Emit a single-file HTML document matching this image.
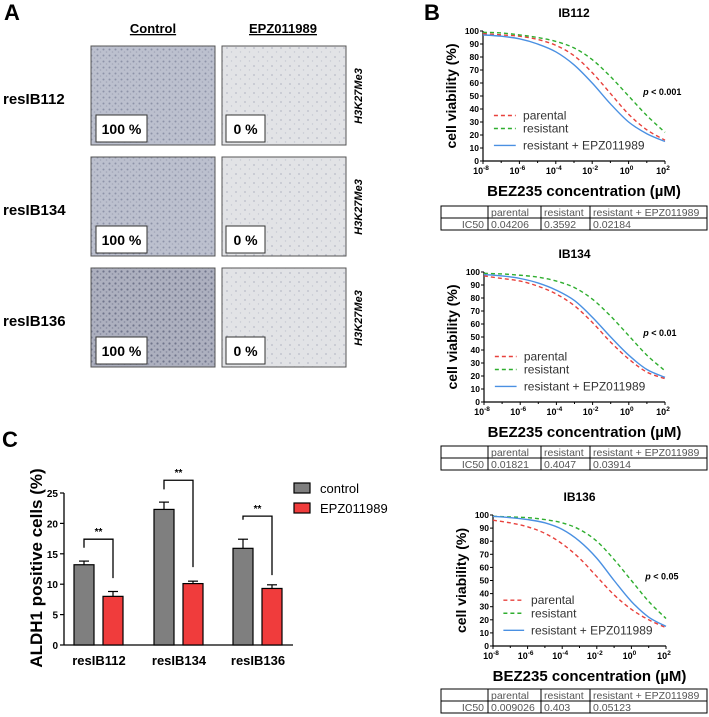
<!DOCTYPE html>
<html><head><meta charset="utf-8">
<style>
html,body{margin:0;padding:0;background:#fff;}
svg{display:block;font-family:"Liberation Sans",Arial,sans-serif;}
</style></head>
<body>
<svg id="fig" width="709" height="717" viewBox="0 0 709 717" xmlns="http://www.w3.org/2000/svg">
<defs>
<pattern id="dense" width="6" height="6" patternUnits="userSpaceOnUse">
<rect width="6" height="6" fill="#bcc0ce"/><circle cx="1.5" cy="1.5" r="1" fill="#8e93a8"/><circle cx="4.5" cy="4" r="0.8" fill="#a2a6b8"/>
</pattern>
<pattern id="dense2" width="6" height="6" patternUnits="userSpaceOnUse">
<rect width="6" height="6" fill="#adb0bf"/><circle cx="1.5" cy="1.5" r="1.1" fill="#70758c"/><circle cx="4.5" cy="4" r="0.9" fill="#8a8ea2"/>
</pattern>
<pattern id="sparse" width="9" height="9" patternUnits="userSpaceOnUse">
<rect width="9" height="9" fill="#e2e3e6"/><circle cx="2" cy="3" r="0.9" fill="#b9bcc8"/><circle cx="6.5" cy="7" r="0.7" fill="#c6c8d2"/>
</pattern>
</defs>
<g id="panelA"></g>
<g id="panelB"></g>
<g id="panelC"></g>
</svg>
<script>
// ---- Panel B data ----
const logConc = [-8,-7,-6,-5,-4,-3,-2,-1,0,1,2];
const xTickExp = [-8,-6,-4,-2,0,2];
const yTicksB = [0,10,20,30,40,50,60,70,80,90,100];
const chartTitles = ["IB112","IB134","IB136"];
const pTexts = ["< 0.001","< 0.01","< 0.05"];
const ib112Parental = [98,97,96,93.5,89,81,68,52,36,24,16];
const ib112Resistant = [99,98.5,97,95,92,87,78,65,50,35,22];
const ib112Epz = [97,96,94,90,84,74,60,44,30,21,15];
const ib134Parental = [97,95,93,89,83,74,61,46,33,23,18];
const ib134Resistant = [99,98.5,97.5,96,93,88,79,66,51,36,24];
const ib134Epz = [98,97,95,91.5,86,78,65,50,36,25,19];
const ib136Parental = [96,94,91,86,78,67,53,39,28,20,14];
const ib136Resistant = [99,98.5,98,96.5,94,89,80,66,50,34,21];
const ib136Epz = [99,98,96.5,94,89,80,67,50,34,22,15];
const ic50Header = ["","parental","resistant","resistant + EPZ011989"];
const ic50Rows = [["IC50","0.04206","0.3592","0.02184"],["IC50","0.01821","0.4047","0.03914"],["IC50","0.009026","0.403","0.05123"]];
// ---- Panel C data ----
const groups = ["resIB112","resIB134","resIB136"];
const controlVals = [13.2,22.3,15.9];
const controlErr = [0.6,1.2,1.5];
const epzVals = [8.0,10.1,9.3];
const epzErr = [0.8,0.4,0.6];
const yTicksC = [0,5,10,15,20,25];
const bracketTop = [17.4,27.1,21.2];
const bracketLeft = [16,25.6,20.6];
const bracketRight = [11,12.8,11.5];

const NS="http://www.w3.org/2000/svg";
function mk(parent,tag,attrs,text){const e=document.createElementNS(NS,tag);for(const k in attrs)e.setAttribute(k,attrs[k]);if(text!==undefined)e.textContent=text;parent.appendChild(e);return e;}

// ---- Panel A ----
(function(){
 const g=document.getElementById('panelA');
 let t=mk(g,'text',{x:4,y:20,'font-size':22,'font-weight':'bold'},'A');
 
 t=mk(g,'text',{x:153,y:33,'font-size':13,'font-weight':'bold','text-anchor':'middle','text-decoration':'underline'},'Control');
 
 t=mk(g,'text',{x:283,y:33,'font-size':13,'font-weight':'bold','text-anchor':'middle','text-decoration':'underline'},'EPZ011989');
 
 const rows=["resIB112","resIB134","resIB136"];const tops=[46,157,268];
 rows.forEach((r,i)=>{
  const y=tops[i];
  let l=mk(g,'text',{x:3,y:y+58,'font-size':15,'font-weight':'bold'},r);
  
  let a=mk(g,'rect',{x:91,y:y,width:124,height:99,fill:i===2?'url(#dense2)':'url(#dense)',stroke:'#555','stroke-width':1});
  
  let b=mk(g,'rect',{x:222,y:y,width:124,height:99,fill:'url(#sparse)',stroke:'#555','stroke-width':1});
  
  let bx=mk(g,'rect',{x:96,y:y+69,width:51,height:27,fill:'#fff',stroke:'#333','stroke-width':1});
  
  let tx=mk(g,'text',{x:121.5,y:y+88,'font-size':14,'font-weight':'bold','text-anchor':'middle'},'100 %');
  
  let bx2=mk(g,'rect',{x:226,y:y+69,width:39,height:27,fill:'#fff',stroke:'#333','stroke-width':1});
  
  let tx2=mk(g,'text',{x:245.5,y:y+88,'font-size':14,'font-weight':'bold','text-anchor':'middle'},'0 %');
  
  let h=mk(g,'text',{x:0,y:0,'font-size':11,'font-weight':'bold','font-style':'italic','text-anchor':'middle',transform:`translate(362,${y+50}) rotate(-90)`},'H3K27Me3');
  
 });
})();

// ---- Panel B ----
function smoothPath(pts){
 let d=`M${pts[0][0].toFixed(2)},${pts[0][1].toFixed(2)}`;
 for(let i=0;i<pts.length-1;i++){
  const p0=pts[Math.max(0,i-1)],p1=pts[i],p2=pts[i+1],p3=pts[Math.min(pts.length-1,i+2)];
  const c1=[p1[0]+(p2[0]-p0[0])/6,p1[1]+(p2[1]-p0[1])/6];
  const c2=[p2[0]-(p3[0]-p1[0])/6,p2[1]-(p3[1]-p1[1])/6];
  d+=` C${c1[0].toFixed(2)},${c1[1].toFixed(2)} ${c2[0].toFixed(2)},${c2[1].toFixed(2)} ${p2[0].toFixed(2)},${p2[1].toFixed(2)}`;
 }
 return d;
}
const seriesSets=[[ib112Parental,ib112Resistant,ib112Epz],[ib134Parental,ib134Resistant,ib134Epz],[ib136Parental,ib136Resistant,ib136Epz]];
const layouts=[{x0:483,x1:665,y0:161,y1:31,tTop:206},{x0:484,x1:665,y0:402,y1:272,tTop:446},{x0:493,x1:666,y0:646,y1:515,tTop:689}];
const seriesStyle=[{c:'#e8413c',dash:'4,3',name:'parental'},{c:'#2fae2f',dash:'4,3',name:'resistant'},{c:'#4a90e2',dash:'',name:'resistant + EPZ011989'}];
(function(){
 const g=document.getElementById('panelB');
 let L=mk(g,'text',{x:424,y:20,'font-size':22,'font-weight':'bold'},'B');
 
 layouts.forEach((ly,ci)=>{
  const cg=mk(g,'g',{});
  
  
  const sx=v=>ly.x0+(v+8)/10*(ly.x1-ly.x0);
  const sy=v=>ly.y0+v/100*(ly.y1-ly.y0);
  const midx=(ly.x0+ly.x1)/2;
  let t=mk(cg,'text',{x:midx,y:ly.y1-14,'font-size':12,'font-weight':'bold','text-anchor':'middle'},chartTitles[ci]);
  
  let ax=mk(cg,'line',{x1:ly.x0,y1:ly.y1,x2:ly.x0,y2:ly.y0,stroke:'#000','stroke-width':1.2});
  
  let axx=mk(cg,'line',{x1:ly.x0,y1:ly.y0,x2:ly.x1,y2:ly.y0,stroke:'#000','stroke-width':1.2});
  
  yTicksB.forEach(v=>{
   mk(cg,'line',{x1:ly.x0-3,y1:sy(v),x2:ly.x0,y2:sy(v),stroke:'#000','stroke-width':1});
   let tl=mk(cg,'text',{x:ly.x0-4,y:sy(v)+3,'font-size':8.5,'font-weight':'bold','text-anchor':'end'},String(v));
   
  });
  for(let e=-8;e<=2;e++){mk(cg,'line',{x1:sx(e),y1:ly.y0,x2:sx(e),y2:ly.y0+(e%2===0?3:2),stroke:'#000','stroke-width':1});}
  xTickExp.forEach(e=>{
   let tl=mk(cg,'text',{x:sx(e)-2,y:ly.y0+13,'font-size':9,'font-weight':'bold','text-anchor':'middle'});
   
   mk(tl,'tspan',{},'10');mk(tl,'tspan',{dy:-4,'font-size':6.5},String(e));
  });
  let yt=mk(cg,'text',{x:0,y:0,'font-size':14,'font-weight':'bold','text-anchor':'middle',transform:`translate(${ly.x0-27},${(ly.y0+ly.y1)/2}) rotate(-90)`},'cell viability (%)');
  
  let xt=mk(cg,'text',{x:midx+10,y:ly.y0+35,'font-size':15,'font-weight':'bold','text-anchor':'middle'},'BEZ235 concentration (µM)');
  
  seriesSets[ci].forEach((vals,si)=>{
   const pts=logConc.map((c,k)=>[sx(c),sy(vals[k])]);
   const st=seriesStyle[si];
   let p=mk(cg,'path',{d:smoothPath(pts),fill:'none',stroke:st.c,'stroke-width':1.4,'stroke-dasharray':st.dash});
   
   
  });
  const legY=[35,25,12];
  seriesStyle.forEach((st,si)=>{
   const y=sy(legY[si]);
   let ln=mk(cg,'line',{x1:sx(-7.4),y1:y,x2:sx(-6.2),y2:y,stroke:st.c,'stroke-width':1.4,'stroke-dasharray':st.dash});
   
   let lt=mk(cg,'text',{x:sx(-5.8),y:y+4,'font-size':12,fill:'#333'},st.name);
   
  });
  let pv=mk(cg,'text',{x:ly.x0+(ly.x1-ly.x0)*0.88,y:sy(53)+3,'font-size':9,'font-weight':'bold'});
  
  mk(pv,'tspan',{'font-style':'italic'},'p');mk(pv,'tspan',{},' '+pTexts[ci]);
  const cols=[441,488,541,590,707];const tt=ly.tTop;const rh=12;
  const tb=mk(cg,'g',{});
  
  mk(tb,'rect',{x:cols[0],y:tt,width:cols[4]-cols[0],height:rh*2,fill:'none',stroke:'#000','stroke-width':1});
  mk(tb,'line',{x1:cols[0],y1:tt+rh,x2:cols[4],y2:tt+rh,stroke:'#000','stroke-width':1});
  for(let k=1;k<4;k++)mk(tb,'line',{x1:cols[k],y1:tt,x2:cols[k],y2:tt+rh*2,stroke:'#000','stroke-width':1});
  ic50Header.forEach((h,k)=>{if(h)mk(tb,'text',{x:cols[k]+3,y:tt+10,'font-size':10.5,fill:'#555'},h);});
  const row=ic50Rows[ci];
  mk(tb,'text',{x:cols[1]-4,y:tt+rh+10,'font-size':10.5,fill:'#555','text-anchor':'end'},row[0]);
  for(let k=1;k<4;k++)mk(tb,'text',{x:cols[k]+3,y:tt+rh+10,'font-size':10.5,fill:'#555'},row[k]);
 });
})();

// ---- Panel C ----
(function(){
 const g=document.getElementById('panelC');
 const x0=64,x1=293,y0=645,y25=493;
 const sy=v=>y0-(v/25)*(y0-y25);
 const centers=[99,179,258];const bw=20;
 let L=mk(g,'text',{x:2,y:447,'font-size':22,'font-weight':'bold'},'C');
 
 let ax=mk(g,'line',{x1:x0,y1:y25,x2:x0,y2:y0,stroke:'#000','stroke-width':1.3});
 
 let axx=mk(g,'line',{x1:x0,y1:y0,x2:x1,y2:y0,stroke:'#000','stroke-width':1.3});
 
 yTicksC.forEach(v=>{
  mk(g,'line',{x1:x0-4,y1:sy(v),x2:x0,y2:sy(v),stroke:'#000','stroke-width':1.2});
  let t=mk(g,'text',{x:x0-6,y:sy(v)+4,'font-size':10,'font-weight':'bold','text-anchor':'end'},String(v));
  
 });
 let yt=mk(g,'text',{x:0,y:0,'font-size':17,'font-weight':'bold','text-anchor':'middle',transform:'translate(42,568) rotate(-90)'},'ALDH1 positive cells (%)');
 
 groups.forEach((gn,i)=>{
  const cx=centers[i];
  const bars=[[controlVals[i],controlErr[i],'#7f7f7f',cx-25,'control'],[epzVals[i],epzErr[i],'#f03c3c',cx+4,'epz011989']];
  bars.forEach(b=>{
   const [v,e,col,bx,nm]=b;
   let er=mk(g,'line',{x1:bx+bw/2,y1:sy(v),x2:bx+bw/2,y2:sy(v+e),stroke:'#000','stroke-width':1.2});
   
   mk(g,'line',{x1:bx+bw/2-5,y1:sy(v+e),x2:bx+bw/2+5,y2:sy(v+e),stroke:'#000','stroke-width':1.2});
   let r=mk(g,'rect',{x:bx,y:sy(v),width:bw,height:y0-sy(v),fill:col,stroke:'#000','stroke-width':1.2});
   
  });
  const lx=cx-15,rx=cx+14;
  let br=mk(g,'path',{d:`M${lx},${sy(bracketLeft[i])} V${sy(bracketTop[i])} H${rx} V${sy(bracketRight[i])}`,fill:'none',stroke:'#000','stroke-width':1.3});
  
  let st=mk(g,'text',{x:(lx+rx)/2,y:sy(bracketTop[i])-4,'font-size':10,'font-weight':'bold','text-anchor':'middle'},'**');
  
  let cl=mk(g,'text',{x:cx,y:665,'font-size':13,'font-weight':'bold','text-anchor':'middle'},gn);
  
 });
 const leg=[['control','#7f7f7f',483],['EPZ011989','#f03c3c',503]];
 leg.forEach(l=>{
  let s=mk(g,'rect',{x:294,y:l[2],width:16,height:10,fill:l[1],stroke:'#000','stroke-width':1.2});
  
  let t=mk(g,'text',{x:320,y:l[2]+10,'font-size':13},l[0]);
  
 });
})();
</script>
</body></html>
